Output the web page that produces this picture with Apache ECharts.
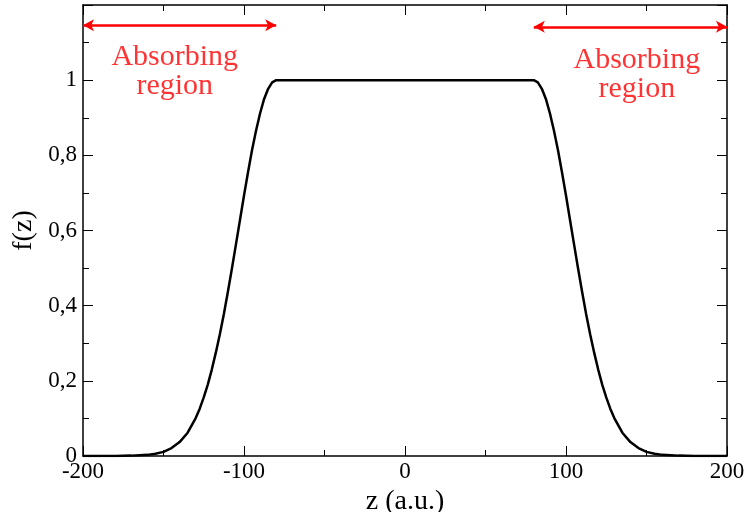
<!DOCTYPE html>
<html><head><meta charset="utf-8">
<script src="https://cdn.jsdelivr.net/npm/echarts@6/dist/echarts.min.js"></script>
<style>html,body{margin:0;padding:0;background:#fff}#c{width:746px;height:512px}</style>
</head><body><div id="c"></div>
<script>
var zValues = [-200,-190,-180,-170,-160,-155,-150,-145,-140,-135,-130,-127.5,-125,-122.5,-120,-117.5,-115,-112.5,-110,-107.5,-105,-102.5,-100,-97.5,-95,-92.5,-90,-87.5,-85,-82.5,-80,
  0,
  80,82.5,85,87.5,90,92.5,95,97.5,100,102.5,105,107.5,110,112.5,115,117.5,120,122.5,125,127.5,130,135,140,145,150,155,160,170,180,190,200];
var fValues = [0,0,0,0.001,0.003,0.006,0.011,0.021,0.037,0.062,0.101,0.126,0.156,0.190,0.230,0.275,0.324,0.378,0.437,0.499,0.563,0.628,0.693,0.755,0.814,0.866,0.912,0.950,0.977,0.994,1.0,
  1.0,
  1.0,0.994,0.977,0.950,0.912,0.866,0.814,0.755,0.693,0.628,0.563,0.499,0.437,0.378,0.324,0.275,0.230,0.190,0.156,0.126,0.101,0.062,0.037,0.021,0.011,0.006,0.003,0.001,0,0,0];
var xTicks = [-200,-100,0,100,200];
var yTicks = [0,0.2,0.4,0.6,0.8,1.0];
var arrowLeft = [[-200,1.146],[-80,1.146]];
var arrowRight = [[80,1.142],[200,1.142]];
var labelLeft = [-143,1.022];
var labelRight = [144,1.016];
var labelText = 'Absorbing\nregion';

var FONT = 'Liberation Serif';
var lineData = zValues.map(function(z,i){return [z,fValues[i]];});
function yFmt(v){ if (Math.abs(v-1.2)<1e-6) return ''; var s = String(+v.toFixed(1)); return s.replace('.', ','); }
var axisLine = {show:true, onZero:false, lineStyle:{color:'#000', width:1.5}};
var tick = {show:true, inside:true, length:10, lineStyle:{color:'#000', width:1}};
var minor = {show:true, splitNumber:2, length:6, lineStyle:{color:'#000', width:1}};
var chart = echarts.init(document.getElementById('c'), null, {renderer:'canvas'});
chart.setOption({
  animation:false,
  backgroundColor:'#fff',
  grid:{left:83, right:19, top:5, bottom:56, containLabel:false, outerBoundsMode:'none'},
  xAxis:[{
    type:'value', min:-200, max:200, interval:100, position:'bottom',
    axisLine:axisLine, axisTick:tick, minorTick:minor, splitLine:{show:false},
    axisLabel:{show:true, margin:4, color:'#000', fontFamily:FONT, fontSize:23,
      formatter:function(v){return xTicks.indexOf(v)>=0 ? String(v) : '';}},
    name:'z (a.u.)', nameLocation:'middle', nameGap:28,
    nameTextStyle:{color:'#000', fontFamily:FONT, fontSize:28}
  },{
    type:'value', min:-200, max:200, interval:100, position:'top',
    axisLine:axisLine, axisTick:tick, minorTick:minor, splitLine:{show:false},
    axisLabel:{show:false}
  }],
  yAxis:[{
    type:'value', min:0, max:1.2, interval:0.2, position:'left',
    axisLine:axisLine, axisTick:tick, minorTick:minor, splitLine:{show:false},
    axisLabel:{show:true, margin:6, color:'#000', fontFamily:FONT, fontSize:23, formatter:yFmt},
    name:'f(z)', nameLocation:'middle', nameGap:40, nameRotate:90,
    nameTextStyle:{color:'#000', fontFamily:FONT, fontSize:28}
  },{
    type:'value', min:0, max:1.2, interval:0.2, position:'right',
    axisLine:axisLine, axisTick:tick, minorTick:minor, splitLine:{show:false},
    axisLabel:{show:false}
  }],
  series:[{
    type:'line', data:lineData, showSymbol:false, symbol:'none', smooth:false,
    lineStyle:{color:'#000', width:2.5}, silent:true,
    markLine:{
      silent:true, symbol:['arrow','arrow'], symbolSize:[9,11],
      label:{show:false},
      lineStyle:{color:'#ff0000', width:2.5, type:'solid'},
      data:[
        [{coord:arrowLeft[0]},{coord:arrowLeft[1]}],
        [{coord:arrowRight[0]},{coord:arrowRight[1]}]
      ]
    }
  },{
    type:'scatter', symbolSize:0, silent:true,
    data:[labelLeft, labelRight],
    label:{show:true, position:'inside', formatter:function(){return labelText;},
      color:'#ff0000', fontFamily:FONT, fontSize:30, lineHeight:29, align:'center', verticalAlign:'middle'}
  }]
});
</script></body></html>
